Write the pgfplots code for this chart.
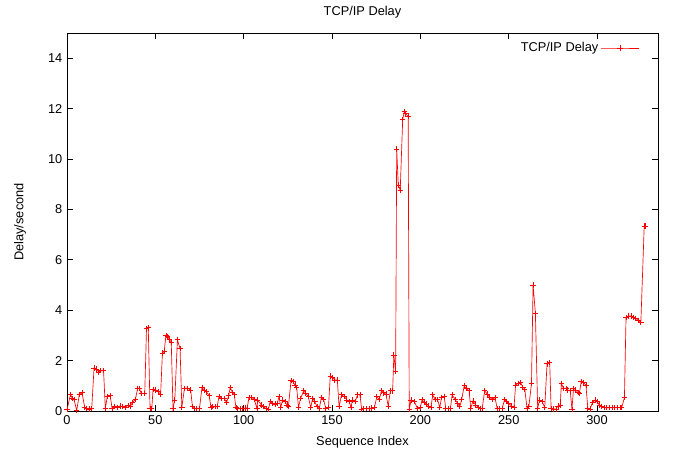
\documentclass[border=0pt]{standalone}
\usepackage{fontspec}
\setmainfont{Liberation Sans}
\usepackage{pgfplots}
\pgfplotsset{compat=1.18}

\begin{document}
\begin{tikzpicture}[font=\fontsize{9.6}{11.5}\selectfont]
\path[use as bounding box] (-50.25pt,-33.75pt) rectangle (465pt,308.25pt);
\begin{axis}[
    at={(0pt,0pt)}, anchor=south west,
    scale only axis, width=443.25pt, height=283.5pt,
    xmin=0, xmax=334.5, ymin=0, ymax=15,
    clip=false,
    xtick={0,50,...,300}, ytick={0,2,...,14},
    tick align=inside, major tick length=4.5pt,
    axis line style={black, line width=0.6pt},
    tick style={black, line width=0.6pt},
    /pgf/number format/assume math mode=true,
    xlabel={Sequence Index},
    xlabel style={at={(axis description cs:0.5,-0.082)}, anchor=center},
    ylabel={Delay/second},
    ylabel style={at={(axis description cs:-0.0795,0.5)}, anchor=center},
    legend plot pos=right,
    legend style={draw=none, fill=none, at={(axis description cs:0.975,0.99)}, anchor=north east,
        cells={anchor=east}},
    legend image code/.code={\draw[mark repeat=2, mark phase=2] plot coordinates {(0pt,0pt) (14pt,0pt) (28pt,0pt)};},
]
\addplot[red, line width=0.5pt, mark=+, mark size=2pt, mark options={line width=0.6pt}] coordinates {
(0,0.05) (2,0.66) (3,0.5) (4,0.45) (5.5,0.03) (7,0.66) (8.5,0.72) (10,0.15)
(11,0.1) (12.5,0.08) (14,0.1) (15.3,1.7) (16.6,1.66) (17.9,1.55) (19,1.6) (20.7,1.6)
(21.7,0.1) (22.8,0.57) (24.5,0.6) (25.5,0.1) (27,0.18) (28.5,0.15) (30,0.2) (31.5,0.17)
(33,0.15) (34.5,0.22) (36,0.2) (37,0.33) (38.7,0.46) (40,0.9) (41,0.9) (42,0.7)
(44,0.7) (45,3.26) (46,3.3) (47,0.1) (48,0.1) (48.7,0.86) (50,0.83) (51.5,0.76)
(53,0.67) (54,2.3) (55,2.35) (56,3.0) (57,2.96) (58,2.83) (59,2.73) (60,0.1)
(61,0.43) (62.5,2.83) (64,2.47) (65,0.15) (66.5,0.9) (68.3,0.9) (70,0.83) (71,0.17)
(72,0.1) (73.5,0.1) (75,0.1) (76.4,0.94) (77.7,0.83) (79,0.76) (80.5,0.6) (81.5,0.14)
(82.5,0.17) (84,0.17) (85,0.17) (86,0.57) (87.5,0.5) (89,0.5) (90.3,0.33) (91.5,0.6)
(92.4,0.94) (93.7,0.73) (94.7,0.64) (95.6,0.14) (96.6,0.1) (98,0.1) (99.5,0.1) (101,0.12)
(102,0.12) (103,0.54) (104.5,0.54) (106,0.46) (107.5,0.1) (108,0.43) (110,0.24) (111,0.17)
(112.6,0.1) (114,0.06) (115,0.37) (116.4,0.3) (117.7,0.28) (119,0.3) (120,0.57) (121,0.14)
(122,0.43) (123.4,0.37) (124.5,0.24) (125.3,0.17) (126.8,1.2) (128,1.16) (129,1.03) (130,0.94)
(131,0.14) (132.2,0.5) (134,0.8) (135.2,0.7) (136.5,0.57) (138,0.14) (139,0.5) (140.3,0.37)
(141.5,0.17) (142.8,0.1) (144,0.54) (145.2,0.46) (146.5,0.1) (148,0.14) (149,1.39) (150.3,1.33)
(151.6,1.23) (153,1.23) (154,0.17) (155.4,0.64) (157,0.57) (158.4,0.44) (159.8,0.37) (160.7,0.14)
(161.6,0.44) (163,0.37) (164.5,0.64) (165.8,0.64) (166.8,0.06) (168,0.1) (169.5,0.1) (171,0.1)
(172.5,0.12) (174,0.14) (175.4,0.57) (176.7,0.46) (178,0.8) (179.2,0.72) (180.5,0.67) (181.8,0.2)
(183,0.8) (184.3,0.8) (185,2.22) (186,1.56) (186.6,10.4) (187.5,8.97) (188.6,8.77) (190,11.57)
(190.9,11.88) (191.8,11.79) (193.1,11.7) (193.7,0.06) (194.7,0.43) (196.6,0.37) (198.4,0.1) (200,0.14)
(201,0.46) (202.2,0.33) (203.5,0.28) (204.7,0.2) (206,0.14) (207,0.64) (208.4,0.46) (209.7,0.46)
(211,0.14) (212,0.54) (213.5,0.57) (214.4,0.1) (216,0.1) (217,0.1) (218,0.64) (219.7,0.46)
(221,0.3) (222.3,0.17) (223.4,0.46) (224.8,1.0) (226,0.9) (227.6,0.8) (228.5,0.1) (229.8,0.4)
(231.3,0.24) (232.8,0.14) (234,0.1) (235,0.1) (236.4,0.8) (237.9,0.67) (239.2,0.54) (240.7,0.46)
(242.2,0.54) (243.5,0.1) (244.8,0.1) (246.3,0.1) (247.7,0.46) (248.6,0.37) (250,0.3) (251.6,0.2)
(253,0.14) (253.9,1.03) (255.4,1.1) (256.7,1.13) (258,0.94) (259.1,0.86) (260.4,0.1) (261.4,0.17)
(262.9,1.1) (263.8,5.0) (265.1,3.88) (266.4,0.1) (267.4,0.43) (268.9,0.37) (270.4,0.14) (271.7,1.87)
(273.2,1.93) (274,0.1) (275.5,0.08) (276.8,0.08) (277.9,0.2) (279.2,0.24) (279.8,1.1) (281,0.9)
(282.4,0.9) (283.5,0.83) (284.8,0.81) (285.8,0.07) (286.7,0.9) (288,0.83) (289.2,0.73) (290,0.7)
(291,1.16) (292.4,1.12) (293.7,1.03) (294.8,0.1) (296,0.08) (297.4,0.33) (299,0.44) (300.2,0.37)
(301.2,0.24) (302.7,0.17) (304,0.13) (305.5,0.13) (307,0.13) (308.5,0.13) (310,0.14) (311.5,0.13)
(313,0.14) (314,0.15) (315.5,0.53) (316.4,3.7) (317.7,3.77) (319.2,3.77) (320.5,3.72) (321.8,3.68)
(323.3,3.6) (324.8,3.52) (326.7,7.34) (327.5,7.34)
};
\addlegendentry{TCP/IP Delay}
\node[anchor=center] at (rel axis cs:0.5,1.0556) {TCP/IP Delay};
\end{axis}
\end{tikzpicture}
\end{document}
